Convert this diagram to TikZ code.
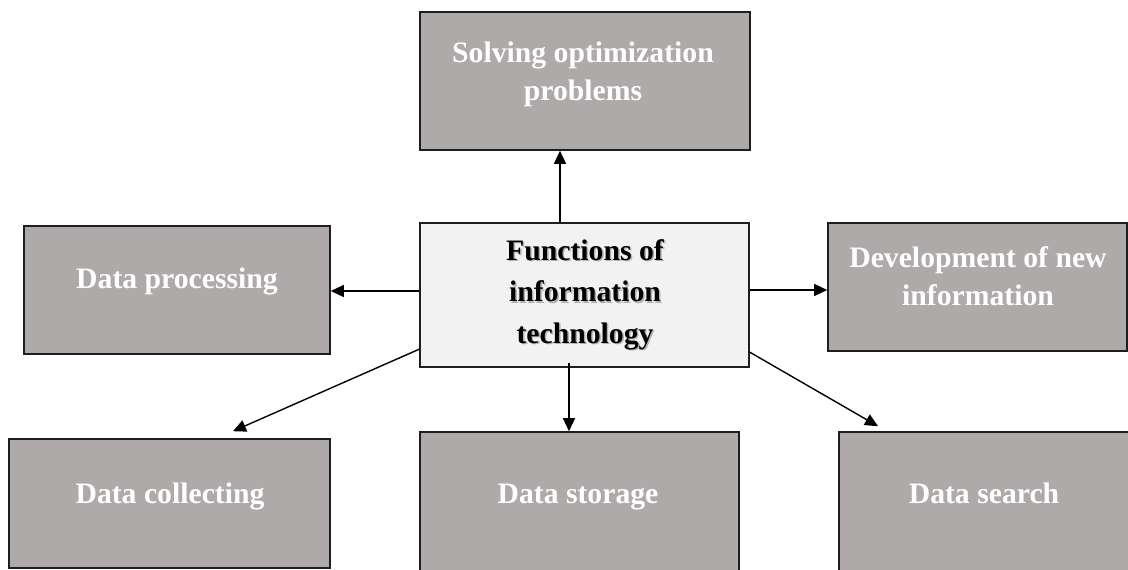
\documentclass[tikz,border=0pt]{standalone}
\usepackage{fontspec}
\setmainfont{Liberation Serif}
\usetikzlibrary{arrows.meta}
\definecolor{boxgray}{HTML}{AEAAA9}
\definecolor{cenfill}{HTML}{F2F2F2}
\definecolor{edgecol}{HTML}{1E1E1E}
\begin{document}
\begin{tikzpicture}[x=1pt,y=-1pt,
  gbox/.style={draw=edgecol,line width=1.6pt,fill=boxgray,inner sep=0pt},
  cbox/.style={draw=edgecol,line width=1.6pt,fill=cenfill,inner sep=0pt},
  gtext/.style={text=white,font=\fontsize{29.7}{38}\selectfont\bfseries,align=center,inner sep=0pt},
  ctext/.style={text=black,font=\fontsize{29.7}{41.5}\selectfont\bfseries,align=center,inner sep=0pt},
  stext/.style={text=black!30,font=\fontsize{29.7}{41.5}\selectfont\bfseries,align=center,inner sep=0pt},
  arr/.style={draw=black,line width=1.4pt,-{Triangle[length=13pt,width=12pt]}}]
\useasboundingbox (0,0) rectangle (1128,570);
\fill[white] (0,0) rectangle (1128,570);
% boxes
\node[gbox,minimum width=330pt,minimum height=138pt] (top) at (585,81) {};
\node[cbox,minimum width=329pt,minimum height=144pt] (cen) at (584.5,295) {};
\node[gbox,minimum width=306pt,minimum height=128pt] (proc) at (177,290) {};
\node[gbox,minimum width=299pt,minimum height=128pt] (dev) at (977.5,287) {};
\node[gbox,minimum width=321pt,minimum height=129pt] (coll) at (169.5,503.5) {};
\node[gbox,minimum width=319pt,minimum height=143pt] (stor) at (579.5,503.5) {};
\node[gbox,minimum width=291pt,minimum height=143pt] (srch) at (984.5,503.5) {};
% texts
\node[gtext] (ttop) at (583,74) {Solving optimization\\problems};
\node[stext] (tcenshadow) at (586.5,296) {Functions of\\information\\technology};
\node[ctext] (tcen) at (585,294.5) {Functions of\\information\\technology};
\node[gtext,anchor=base] (tproc) at (177,288) {Data processing};
\node[gtext] (tdev) at (978,276) {Development of new\\information};
\node[gtext,anchor=base] (tcoll) at (170,503) {Data collecting};
\node[gtext,anchor=base] (tstor) at (578,503) {Data storage};
\node[gtext,anchor=base] (tsrch) at (984,503) {Data search};
% connectors
\draw[arr] ([xshift=-24.5pt]cen.north) -- ([xshift=-25pt]top.south);
\draw[arr] ([yshift=4pt]cen.west) -- ([yshift=4pt]cen.west -| proc.east);
\draw[arr] ([yshift=5pt]cen.east) -- ([yshift=5pt]cen.east -| dev.west);
\draw[arr] ([xshift=-15.5pt,yshift=5pt]cen.south) -- ([xshift=-15.5pt]cen.south |- stor.north);
\draw[arr] ([yshift=-127pt]cen.north west) -- ([xshift=63.5pt,yshift=7pt]coll.north);
\draw[arr] ([yshift=-130pt]cen.north east) -- ([xshift=-106.5pt,yshift=5pt]srch.north);
\end{tikzpicture}
\end{document}
